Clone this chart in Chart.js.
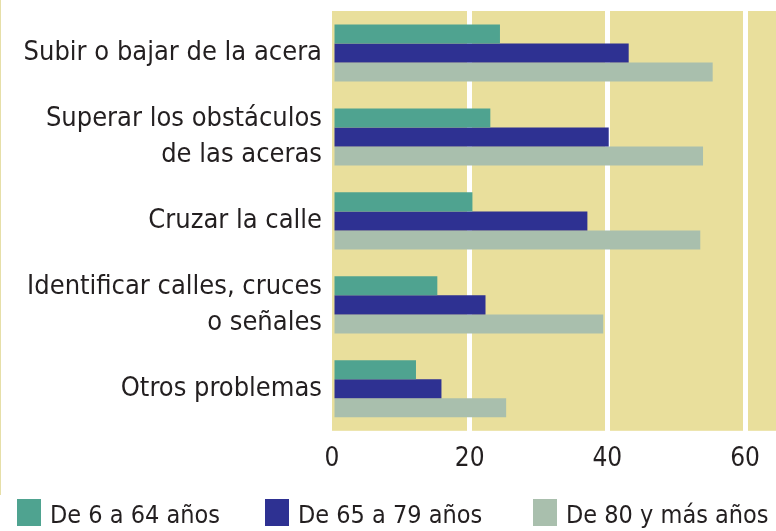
<!DOCTYPE html>
<html>
<head>
<meta charset="utf-8">
<script src="https://cdn.jsdelivr.net/npm/chart.js@4"></script>
<style>
html,body{margin:0;padding:0;background:#fff;}
#wrap{width:776px;height:531px;position:relative;overflow:hidden;}
#edge{position:absolute;left:0;top:0;width:1px;height:495px;background:#e6dfa8;}
.lg{position:absolute;top:0;left:0;font-family:'DejaVu Sans Condensed',sans-serif;font-size:25px;color:#231f20;white-space:nowrap;line-height:1;}
.bx{position:absolute;width:24px;height:27px;}
</style>
</head>
<body>
<div id="wrap">
  <canvas id="c"></canvas>
  <div id="edge"></div>
  <div id="legend"></div>
</div>
<script>
const categories = [
  "Subir o bajar de la acera",
  ["Superar los obstáculos", "de las aceras"],
  "Cruzar la calle",
  ["Identificar calles, cruces", "o señales"],
  "Otros problemas"
];
const seriesNames = ["De 6 a 64 años", "De 65 a 79 años", "De 80 y más años"];
const age6to64 = [24.4, 23.0, 20.4, 15.3, 12.2];
const age65to79 = [43.1, 40.2, 37.1, 22.3, 15.9];
const age80plus = [55.3, 53.9, 53.5, 39.4, 25.3];
const xTicks = [0, 20, 40, 60];

const FONT = "'DejaVu Sans Condensed', sans-serif";
const colors = ["#4fa390", "#2e3192", "#a9bfad"];

// HTML legend (real text), positioned like the reference
const legendX = [17, 265, 533];
const legendEl = document.getElementById('legend');
seriesNames.forEach((name, i) => {
  const b = document.createElement('div');
  b.className = 'bx';
  b.style.left = legendX[i] + 'px';
  b.style.top = '499px';
  b.style.background = colors[i];
  legendEl.appendChild(b);
  const t = document.createElement('div');
  t.className = 'lg';
  t.textContent = name;
  t.style.left = (legendX[i] + 33) + 'px';
  t.style.top = '502px';
  legendEl.appendChild(t);
});

const plotBg = {
  id: 'plotBg',
  beforeDraw(chart) {
    const {ctx, chartArea: a} = chart;
    ctx.save();
    ctx.fillStyle = '#e9df9c';
    ctx.fillRect(a.left, a.top, a.right - a.left, a.bottom - a.top);
    ctx.restore();
  }
};

new Chart(document.getElementById('c'), {
  type: 'bar',
  data: {
    labels: categories,
    datasets: [age6to64, age65to79, age80plus].map((d, i) => ({
      label: seriesNames[i],
      data: d,
      backgroundColor: colors[i],
      borderWidth: 0,
      categoryPercentage: 0.68,
      barPercentage: 1.0
    }))
  },
  options: {
    indexAxis: 'y',
    responsive: true,
    maintainAspectRatio: false,
    animation: false,
    layout: { padding: { top: 11, right: 0, left: 0, bottom: 43 } },
    plugins: {
      legend: { display: false },
      tooltip: { enabled: false }
    },
    scales: {
      x: {
        min: 0,
        max: 64.5,
        afterBuildTicks(scale) { scale.ticks = xTicks.map(v => ({ value: v })); },
        grid: {
          color: ctx => ctx.tick && ctx.tick.value === 0 ? 'rgba(0,0,0,0)' : '#ffffff',
          lineWidth: 5,
          drawTicks: false
        },
        border: { display: false },
        ticks: {
          font: { family: FONT, size: 26 },
          color: '#231f20',
          padding: 13
        }
      },
      y: {
        grid: { display: false, drawTicks: false },
        border: { display: false },
        afterFit(scale) { scale.width = 332; scale.paddingTop = 0; scale.paddingBottom = 0; },
        ticks: {
          font: { family: FONT, size: 27, lineHeight: 1.35 },
          color: '#231f20',
          padding: 10
        }
      }
    }
  },
  plugins: [plotBg]
});
</script>
</body>
</html>
